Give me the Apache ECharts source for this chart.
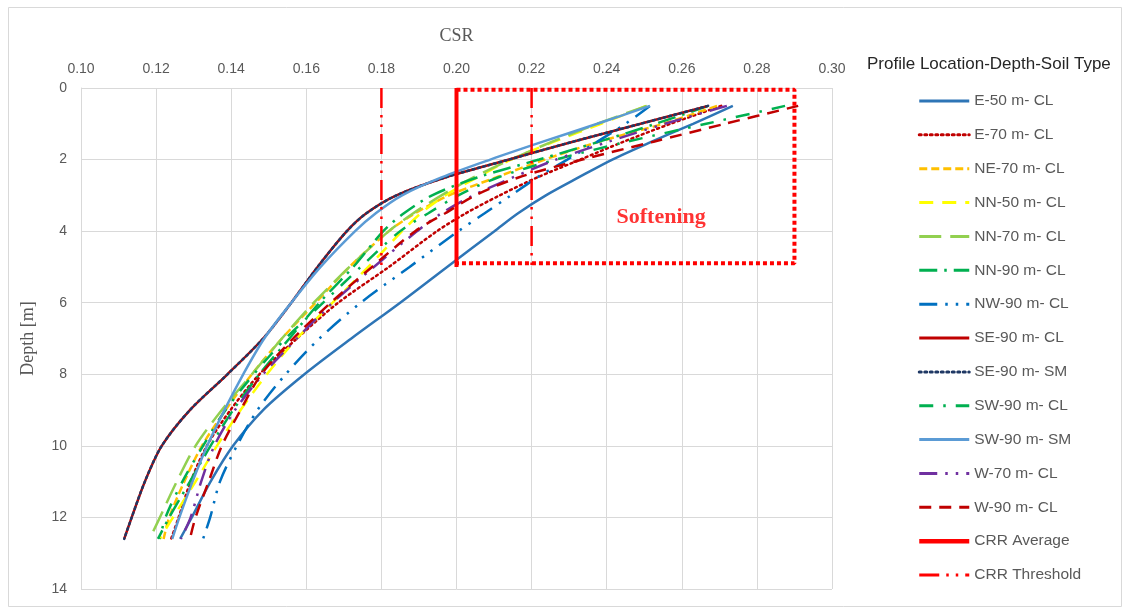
<!DOCTYPE html>
<html>
<head>
<meta charset="utf-8">
<script src="https://cdn.jsdelivr.net/npm/echarts@6/dist/echarts.min.js"></script>
<style>html,body{margin:0;padding:0;background:#fff}#c{width:1124px;height:608px}</style>
</head>
<body>
<div id="c"></div>
<script>
// Depths (m) at which CSR is read
const DEPTH = [0.5, 1, 1.5, 2, 2.5, 3, 3.5, 4, 5, 6, 7, 8, 9, 10, 11, 12, 12.6];
const DEPTH_NN70 = [0.5, 1, 1.5, 2, 2.5, 3, 3.5, 4, 5, 6, 7, 8, 9, 10, 11, 12, 12.4];

// CSR values per profile
const E50_CL  = [0.2736, 0.263, 0.252, 0.2415, 0.2325, 0.2238, 0.2164, 0.2101, 0.1975, 0.185, 0.172, 0.1595, 0.1485, 0.1405, 0.1345, 0.1295, 0.1264];
const E70_CL  = [0.2705, 0.257, 0.2445, 0.233, 0.2215, 0.2115, 0.2025, 0.1948, 0.182, 0.1685, 0.1575, 0.1475, 0.1398, 0.1335, 0.1292, 0.126, 0.124];
const NE70_CL = [0.2694, 0.255, 0.238, 0.2235, 0.2105, 0.198, 0.189, 0.182, 0.1715, 0.1625, 0.1535, 0.1455, 0.1385, 0.1322, 0.1275, 0.1235, 0.122];
const NN50_CL = [0.2505, 0.2385, 0.226, 0.2145, 0.2055, 0.197, 0.1905, 0.1855, 0.1765, 0.167, 0.1575, 0.1495, 0.1425, 0.1362, 0.1305, 0.1245, 0.121];
const NN70_CL = [0.2507, 0.2375, 0.2255, 0.2145, 0.2045, 0.196, 0.1885, 0.182, 0.1715, 0.162, 0.1535, 0.1455, 0.1375, 0.1305, 0.1255, 0.121, 0.1192];
const NN90_CL = [0.267, 0.253, 0.238, 0.222, 0.2055, 0.1935, 0.186, 0.1805, 0.1725, 0.1635, 0.1555, 0.1475, 0.1405, 0.1345, 0.129, 0.1235, 0.1205];
const NW90_CL = [0.2515, 0.245, 0.2375, 0.2295, 0.2215, 0.2145, 0.2075, 0.2005, 0.1875, 0.1745, 0.1635, 0.1545, 0.147, 0.1415, 0.137, 0.1344, 0.1325];
const SE90_CL = [0.267, 0.249, 0.231, 0.214, 0.197, 0.184, 0.176, 0.1708, 0.163, 0.156, 0.1485, 0.139, 0.129, 0.1215, 0.117, 0.1135, 0.1115];
const SE90_SM = [0.267, 0.249, 0.231, 0.214, 0.197, 0.184, 0.176, 0.1708, 0.163, 0.156, 0.1485, 0.139, 0.129, 0.1215, 0.117, 0.1135, 0.1115];
const SW90_CL = [0.2875, 0.2665, 0.2455, 0.2265, 0.211, 0.2005, 0.1925, 0.185, 0.1745, 0.1645, 0.1545, 0.146, 0.1385, 0.1325, 0.127, 0.1225, 0.121];
const SW90_SM = [0.2515, 0.2375, 0.223, 0.209, 0.196, 0.1855, 0.1785, 0.173, 0.1638, 0.156, 0.1488, 0.1432, 0.1382, 0.1336, 0.1297, 0.1262, 0.1243];
const W70_CL  = [0.272, 0.2555, 0.2405, 0.2265, 0.215, 0.2045, 0.196, 0.1895, 0.178, 0.167, 0.1575, 0.1485, 0.141, 0.1355, 0.132, 0.1292, 0.1266];
const W90_CL  = [0.291, 0.2715, 0.2525, 0.2335, 0.2165, 0.205, 0.197, 0.189, 0.1775, 0.1665, 0.1565, 0.148, 0.1425, 0.1375, 0.134, 0.1305, 0.129];

// CRR reference lines (CSR, depth range)
const CRR_AVG = 0.20;
const CRR_THRESHOLDS = [0.18, 0.22];
const CRR_DEPTH = [0, 5];
// Softening zone (CSR range, depth range)
const SOFT_CSR = [0.20, 0.29];
const SOFT_DEPTH = [0.05, 4.9];
const SOFT_LABEL_AT = [0.2545, 3.6];

const X_TICKS = { min: 0.10, max: 0.30, interval: 0.02 };
const Y_TICKS = { min: 0, max: 14, interval: 2 };

const pts = (vals, depths) => vals.map((v, i) => [v, (depths || DEPTH)[i]]);

const profiles = [
  { name: 'E-50 m- CL',  vals: E50_CL,  color: '#2E75B6', type: 'solid' },
  { name: 'E-70 m- CL',  vals: E70_CL,  color: '#C00000', type: [2, 3.5], cap: 'round' },
  { name: 'NE-70 m- CL', vals: NE70_CL, color: '#FFC000', type: [8, 4] },
  { name: 'NN-50 m- CL', vals: NN50_CL, color: '#FFFF00', type: [14, 9] },
  { name: 'NN-70 m- CL', vals: NN70_CL, color: '#92D050', type: [22, 9], depths: DEPTH_NN70 },
  { name: 'NN-90 m- CL', vals: NN90_CL, color: '#00B050', type: [18, 7, 2.5, 7] },
  { name: 'NW-90 m- CL', vals: NW90_CL, color: '#0070C0', type: [18, 8, 2.5, 8, 2.5, 8] },
  { name: 'SE-90 m- CL', vals: SE90_CL, color: '#C00000', type: 'solid' },
  { name: 'SE-90 m- SM', vals: SE90_SM, color: '#1F3864', type: [2, 3.5], cap: 'round' },
  { name: 'SW-90 m- CL', vals: SW90_CL, color: '#00B050', type: [14, 10, 2.5, 10] },
  { name: 'SW-90 m- SM', vals: SW90_SM, color: '#5B9BD5', type: 'solid' },
  { name: 'W-70 m- CL',  vals: W70_CL,  color: '#7030A0', type: [18, 8, 2.5, 8, 2.5, 8] },
  { name: 'W-90 m- CL',  vals: W90_CL,  color: '#C00000', type: [12, 8] }
];

const series = profiles.map(p => ({
  name: p.name,
  type: 'line',
  data: pts(p.vals, p.depths),
  smooth: 0.3,
  symbol: 'none',
  color: p.color,
  lineStyle: { color: p.color, width: 2.5, type: p.type, cap: p.cap || 'butt' },
  z: 3
}));

series.push({
  name: 'CRR Average', type: 'line', symbol: 'none', color: '#FF0000',
  data: CRR_DEPTH.map(d => [CRR_AVG, d]),
  lineStyle: { color: '#FF0000', width: 4, type: 'solid' }, z: 4
});
CRR_THRESHOLDS.forEach(t => {
  series.push({
    name: 'CRR Threshold', type: 'line', symbol: 'none', color: '#FF0000',
    data: CRR_DEPTH.map(d => [t, d]),
    lineStyle: { color: '#FF0000', width: 2.5, type: [20, 7, 2.5, 7, 2.5, 7] }, z: 4
  });
});
series.push({
  name: 'softening-zone', type: 'line', symbol: 'none', silent: true,
  data: [[SOFT_CSR[0], SOFT_DEPTH[0]], [SOFT_CSR[1], SOFT_DEPTH[0]], [SOFT_CSR[1], SOFT_DEPTH[1]], [SOFT_CSR[0], SOFT_DEPTH[1]]],
  lineStyle: { color: '#FF0000', width: 4, type: [4, 3] }, z: 4
});
series.push({
  name: 'softening-label', type: 'scatter', symbolSize: 0, silent: true,
  data: [SOFT_LABEL_AT],
  label: { show: true, position: 'inside', formatter: 'Softening', color: '#FF0000',
           fontFamily: 'Liberation Serif', fontWeight: 'bold', fontSize: 22 }, z: 5
});

const legendData = profiles.map(p => ({ name: p.name, lineStyle: { width: 3 } }))
  .concat([{ name: 'CRR Average', lineStyle: { width: 4.5 } }, { name: 'CRR Threshold', lineStyle: { width: 3 } }]);

const chart = echarts.init(document.getElementById('c'), null, { renderer: 'canvas' });
chart.setOption({
  animation: false,
  backgroundColor: '#fff',
  grid: { left: 81, right: 292, top: 88, bottom: 19, containLabel: false },
  title: {
    text: 'Profile Location-Depth-Soil Type', left: 867, top: 56, padding: 0,
    textStyle: { fontFamily: 'Liberation Sans', fontSize: 17, fontWeight: 'normal', color: '#262626' }
  },
  legend: {
    data: legendData,
    orient: 'vertical', left: 917, top: 93, padding: 0,
    itemWidth: 50, itemHeight: 16, itemGap: 17.86,
    itemStyle: { opacity: 0 },
    lineStyle: { width: 3 },
    textStyle: { fontFamily: 'Liberation Sans', fontSize: 15.5, color: '#595959' },
    selectedMode: false
  },
  xAxis: {
    type: 'value', position: 'top', min: X_TICKS.min, max: X_TICKS.max, interval: X_TICKS.interval,
    name: 'CSR', nameLocation: 'middle', nameGap: 43,
    nameTextStyle: { fontFamily: 'Liberation Serif', fontSize: 18, color: '#595959' },
    axisLine: { show: false }, axisTick: { show: false },
    axisLabel: { formatter: v => v.toFixed(2), fontFamily: 'Liberation Sans', fontSize: 14, color: '#595959', margin: 12 },
    splitLine: { show: true, lineStyle: { color: '#D9D9D9', width: 1 } }
  },
  yAxis: {
    type: 'value', inverse: true, min: Y_TICKS.min, max: Y_TICKS.max, interval: Y_TICKS.interval,
    name: 'Depth [m]', nameLocation: 'middle', nameGap: 44, nameRotate: 90,
    nameTextStyle: { fontFamily: 'Liberation Serif', fontSize: 18, color: '#595959' },
    axisLine: { show: true, lineStyle: { color: '#D9D9D9' } }, axisTick: { show: false },
    axisLabel: { fontFamily: 'Liberation Sans', fontSize: 14, color: '#595959', margin: 14 },
    splitLine: { show: true, lineStyle: { color: '#D9D9D9', width: 1 } }
  },
  graphic: [{
    type: 'rect', left: 6, top: 5, silent: true,
    shape: { width: 1113, height: 599 },
    style: { fill: 'none', stroke: '#D9D9D9', lineWidth: 1 }
  }],
  series: series
});
</script>
</body>
</html>
